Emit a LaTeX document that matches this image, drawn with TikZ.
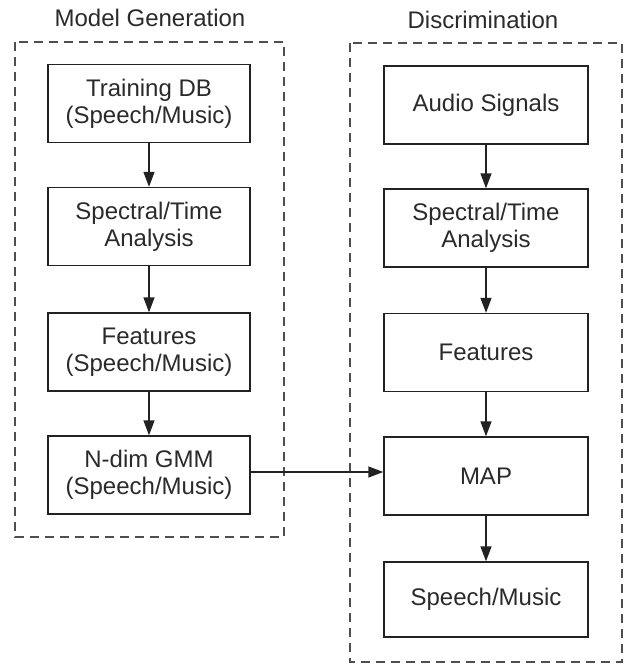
\documentclass[tikz,border=0pt]{standalone}
\usepackage{fontspec}
\setmainfont{Liberation Sans}
\usetikzlibrary{arrows.meta}
\definecolor{ink}{HTML}{222222}
\definecolor{txt}{HTML}{2A2A2A}
\begin{document}
\begin{tikzpicture}[x=1pt,y=-1pt,
  procbox/.style={draw=ink,line width=1.3pt,minimum width=202pt,minimum height=78pt,
    inner sep=0pt,align=center,text=txt,font=\fontsize{24}{27}\selectfont},
  grpbox/.style={draw=ink!80,line width=1.2pt,dash pattern=on 9pt off 6pt},
  ttl/.style={text=txt,font=\fontsize{24}{27}\selectfont,inner sep=0pt,anchor=base},
  flow/.style={draw=ink,line width=1.3pt,-{Triangle[length=15pt,width=11pt]}}]
\useasboundingbox (0,0) rectangle (627,664);
% group frames
\draw[grpbox] (15,42) rectangle (284,537);
\draw[grpbox] (350,43) rectangle (622,662);
\node[ttl] (t1) at (150,26) {Model Generation};
\node[ttl] (t2) at (483,28) {Discrimination};
% left column
\node[procbox] (tdb) at (149,103.5) {Training DB\\(Speech/Music)};
\node[procbox] (lsta) at (149,226.5) {Spectral/Time\\Analysis};
\node[procbox] (lfeat) at (149,352) {Features\\(Speech/Music)};
\node[procbox] (gmm) at (149,475) {N-dim GMM\\(Speech/Music)};
% right column
\node[procbox,minimum width=204pt] (aud) at (486,105) {Audio Signals};
\node[procbox,minimum width=204pt] (rsta) at (486,228) {Spectral/Time\\Analysis};
\node[procbox,minimum width=204pt] (rfeat) at (486,352.5) {Features};
\node[procbox,minimum width=204pt] (map) at (486,476) {MAP};
\node[procbox,minimum width=204pt,minimum height=75pt] (out) at (486,599.5) {Speech/Music};
% arrows
\draw[flow] (tdb) -- (lsta);
\draw[flow] (lsta) -- (lfeat);
\draw[flow] (lfeat) -- (gmm);
\draw[flow] (aud) -- (rsta);
\draw[flow] (rsta) -- (rfeat);
\draw[flow] (rfeat) -- (map);
\draw[flow] (map) -- (out);
\draw[flow] ([yshift=3pt]gmm.east) -- ([yshift=3pt]gmm.east -| map.west);
\end{tikzpicture}
\end{document}
